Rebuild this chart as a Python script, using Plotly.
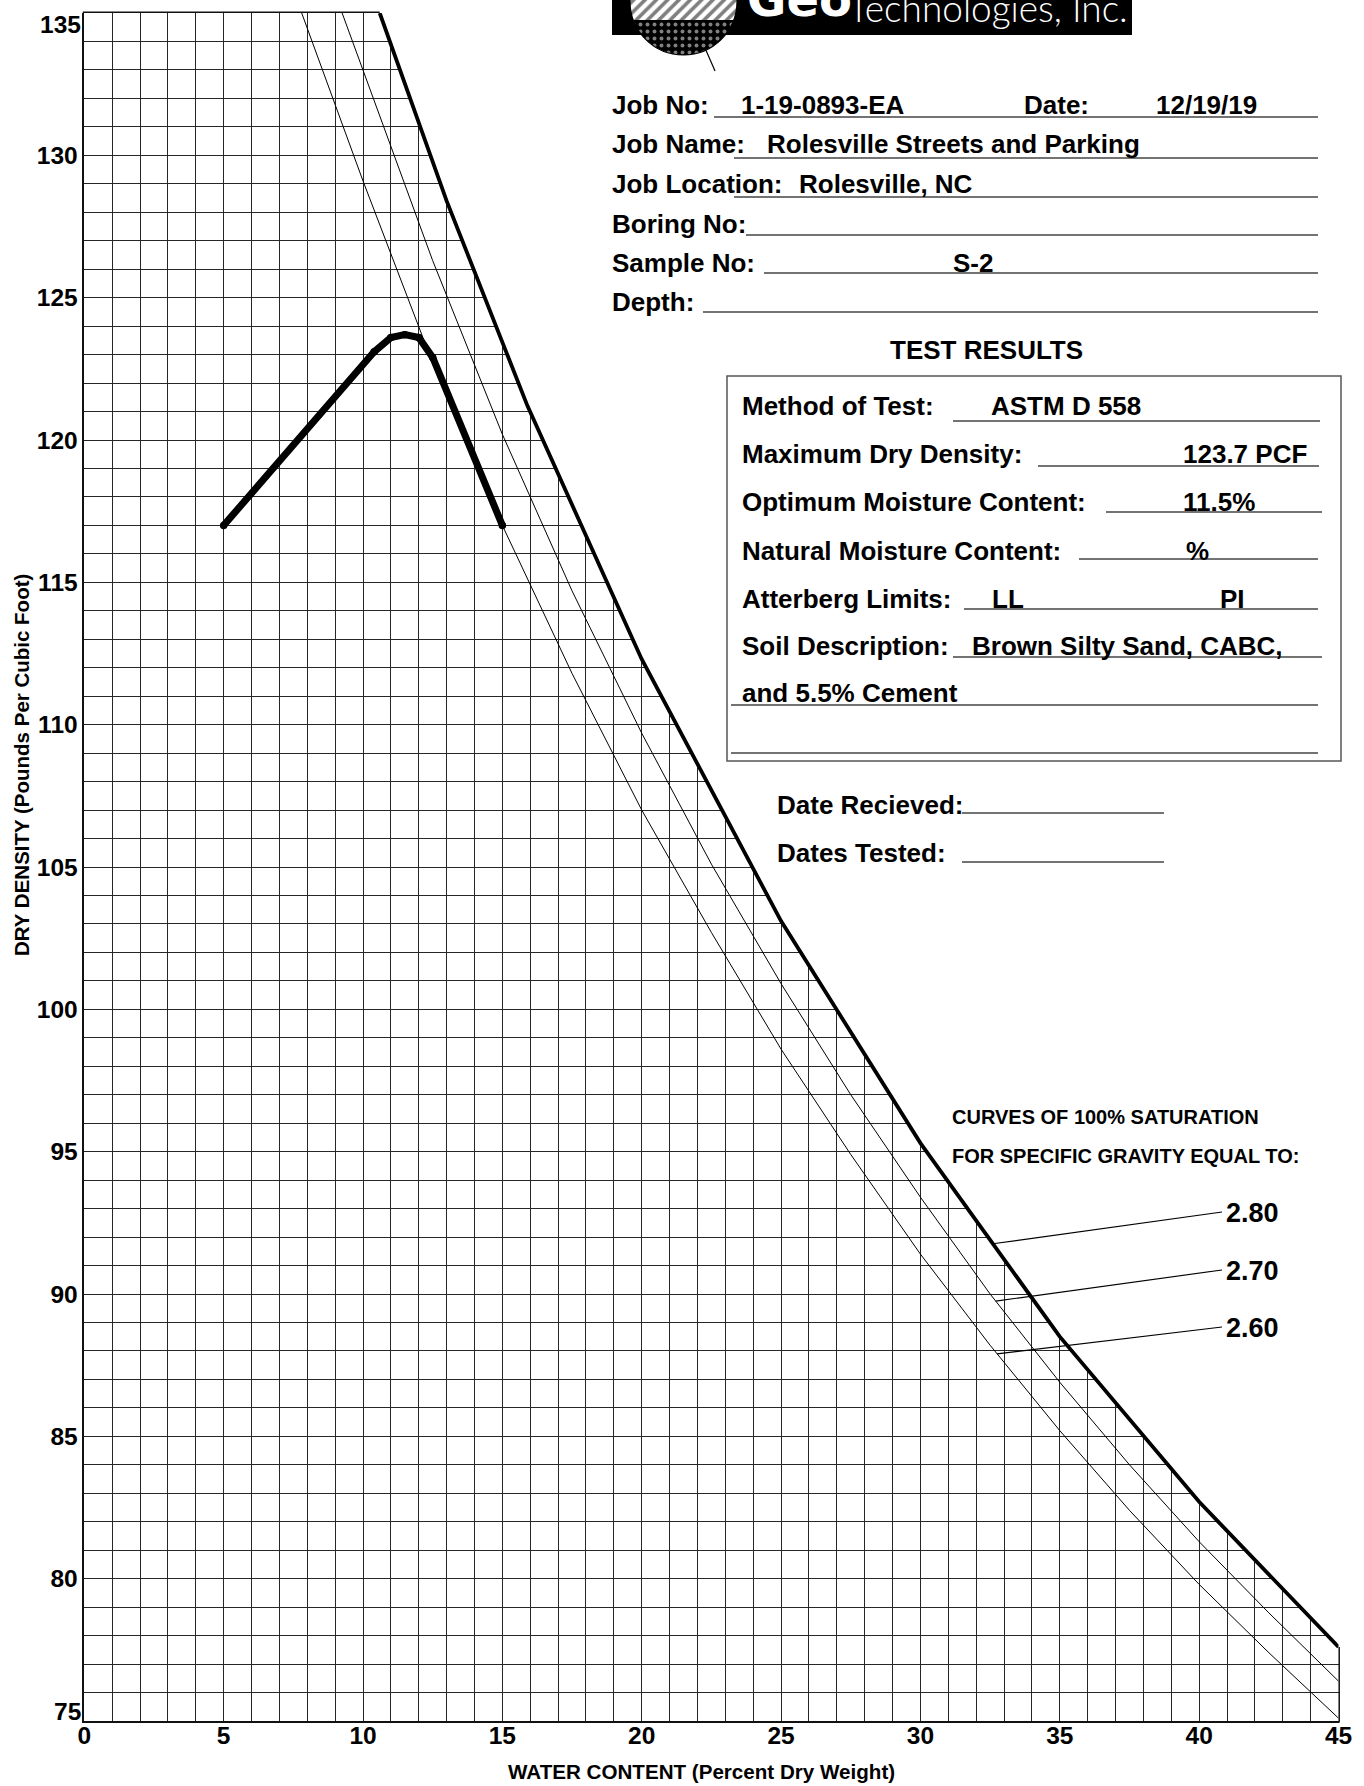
import numpy as np
import plotly.graph_objects as go

# ---------------- data ----------------
compaction_moisture = [5.0, 10.4, 11.0, 11.5, 12.0, 12.5, 15.0]
compaction_density = [117.0, 123.1, 123.6, 123.7, 123.6, 122.9, 117.0]

sat280_moisture = [10.6, 13.0, 15.9, 20.0, 25.0, 30.0, 35.0, 40.0, 45.0]
sat280_density = [135.0, 128.4, 121.2, 112.3, 103.1, 95.3, 88.5, 82.7, 77.6]

sat270_moisture = [9.25, 10.0, 12.5, 15.0, 17.5, 20.0, 22.5, 25.0, 27.5, 30.0,
                   32.5, 35.0, 37.5, 40.0, 42.5, 45.0]
sat270_density = [135.0, 133.0, 126.3, 120.2, 114.7, 109.7, 105.1, 100.9, 97.0, 93.4,
                  90.0, 86.9, 84.0, 81.3, 78.8, 76.4]

sat260_moisture = [7.8, 10.0, 12.5, 15.0, 17.5, 20.0, 22.5, 25.0, 27.5, 30.0,
                   32.5, 35.0, 37.5, 40.0, 42.5, 45.0]
sat260_density = [135.0, 129.1, 122.7, 117.0, 111.8, 107.0, 102.7, 98.6, 94.9, 91.4,
                  88.2, 85.2, 82.4, 79.8, 77.4, 75.1]

gravity_labels = ["2.80", "2.70", "2.60"]
leader_moisture = [32.6, 32.7, 32.75]

x_tick_vals = [0, 5, 10, 15, 20, 25, 30, 35, 40, 45]
y_tick_vals = [80, 85, 90, 95, 100, 105, 110, 115, 120, 125, 130]
y_end_labels = ["135", "75"]

# ---------------- page geometry ----------------
SANS = "Liberation Sans, Arial, Helvetica, sans-serif"
W, H = 1364, 1786
PX_L, PX_R, PY_T, PY_B = 84.3, 1338.5, 13.0, 1721.0
X_MIN, X_MAX, Y_MIN, Y_MAX = 0, 45, 75, 135
GRID = "#262626"
INK = "#111111"
RULE = "#444444"
FS = 26


def to_px(w, d):
    return (PX_L + (w - X_MIN) * (PX_R - PX_L) / (X_MAX - X_MIN),
            PY_T + (Y_MAX - d) * (PY_B - PY_T) / (Y_MAX - Y_MIN))


fig = go.Figure()

# white mask hiding the grid above the 2.80 saturation curve
fig.add_trace(go.Scatter(
    x=sat280_moisture + [X_MAX + 5, X_MAX + 5, sat280_moisture[0]],
    y=sat280_density + [sat280_density[-1], Y_MAX + 5, Y_MAX + 5],
    fill="toself", fillcolor="white", mode="none", hoverinfo="skip"))

for mw, dd, lw in [(sat260_moisture, sat260_density, 1.0),
                   (sat270_moisture, sat270_density, 1.0),
                   (sat280_moisture, sat280_density, 3.8)]:
    fig.add_trace(go.Scatter(x=mw, y=dd, mode="lines",
                             line=dict(color="black", width=lw), hoverinfo="skip"))

fig.add_trace(go.Scatter(x=compaction_moisture, y=compaction_density,
                         mode="lines+markers",
                         line=dict(color="black", width=7),
                         marker=dict(color="black", size=7.5)))

# ---------------- overlay (pixel subplot) ----------------
tx, ty = to_px(sat280_moisture[0], sat280_density[0])
rx, ry = to_px(sat280_moisture[-1], sat280_density[-1])
# white strips hiding the half-drawn edge gridlines above the 2.80 curve
fig.add_trace(go.Scatter(x=[PX_R - 0.8, PX_R + 4, PX_R + 4, PX_R - 0.8], y=[0, 0, ry - 3, ry - 3],
                         xaxis="x2", yaxis="y2", fill="toself", fillcolor="white", mode="none",
                         hoverinfo="skip"))
fig.add_trace(go.Scatter(x=[tx + 3, PX_R + 4, PX_R + 4, tx + 3], y=[PY_T - 4, PY_T - 4, PY_T + 0.8, PY_T + 0.8],
                         xaxis="x2", yaxis="y2", fill="toself", fillcolor="white", mode="none",
                         hoverinfo="skip"))

# logo
cx, cy, r, ysplit = 683.5, 1.5, 53.5, 20.0
a0 = np.arcsin((ysplit - cy) / r)
t_up = np.linspace(np.pi - a0, 2 * np.pi + a0, 80)
t_lo = np.linspace(a0, np.pi - a0, 60)
fig.add_trace(go.Scatter(x=[612, 1132, 1132, 612], y=[-5, -5, 35, 35], xaxis="x2", yaxis="y2",
                         fill="toself", fillcolor="black", mode="none", hoverinfo="skip"))
fig.add_trace(go.Scatter(x=cx + r * np.cos(t_up), y=cy + r * np.sin(t_up), xaxis="x2", yaxis="y2",
                         fill="toself", mode="none", hoverinfo="skip",
                         fillpattern=dict(shape="/", fgcolor="black", bgcolor="white",
                                          size=8, solidity=0.45)))
fig.add_trace(go.Scatter(x=cx + r * np.cos(t_lo), y=cy + r * np.sin(t_lo), xaxis="x2", yaxis="y2",
                         fill="toself", mode="none", hoverinfo="skip",
                         fillpattern=dict(shape=".", fgcolor="white", bgcolor="black",
                                          size=7, solidity=0.25)))

shapes = []
shapes.append(dict(type="circle", xref="x2", yref="y2", x0=cx - r, x1=cx + r, y0=cy - r, y1=cy + r,
                   line=dict(color="black", width=1.2)))
shapes.append(dict(type="line", xref="x2", yref="y2", x0=705, y0=48, x1=715, y1=71,
                   line=dict(color="black", width=1.2)))

# frame segments along the top and right edge (only where the grid is visible)
shapes.append(dict(type="line", xref="x2", yref="y2", x0=PX_L - 1.5, y0=PY_T - 0.7, x1=tx, y1=PY_T - 0.7,
                   line=dict(color=INK, width=1.5)))
shapes.append(dict(type="line", xref="x2", yref="y2", x0=PX_R + 0.7, y0=ry, x1=PX_R + 0.7, y1=PY_B + 1.5,
                   line=dict(color=INK, width=1.5)))

# leader lines for the specific gravity labels
label_y_px = [1213, 1271, 1328]
curves = [(sat280_moisture, sat280_density), (sat270_moisture, sat270_density),
          (sat260_moisture, sat260_density)]
for (mw, dd), wl, ly in zip(curves, leader_moisture, label_y_px):
    hx, hy = to_px(wl, float(np.interp(wl, mw, dd)))
    shapes.append(dict(type="line", xref="x2", yref="y2", x0=hx, y0=hy, x1=1222, y1=ly - 1,
                       line=dict(color="black", width=1.2)))


def rule(x0, x1, y, width=1.6):
    shapes.append(dict(type="line", xref="x2", yref="y2", x0=x0, x1=x1, y0=y, y1=y,
                       line=dict(color=RULE, width=width)))


annotations = []


def text(t, x, y, size=FS, anchor="left", color="black", family=SANS, weight="bold",
         yanchor="middle", angle=0):
    annotations.append(dict(text=t, x=x, y=y, xref="x2", yref="y2", xanchor=anchor,
                            yanchor=yanchor, showarrow=False, borderpad=0, borderwidth=0,
                            textangle=angle,
                            font=dict(family=family, size=size, color=color, weight=weight)))


# logo words
text("Geo", 747, 27, size=48, color="white", family="DejaVu Sans", yanchor="bottom")
text("Technologies, Inc.", 848, 30, size=37, color="white", family="Lato, Open Sans",
     weight=300, yanchor="bottom")

# header block
row_y = [105, 144, 184, 224, 263, 302]
rule_y = [117, 158, 197, 235, 273, 312]
rule_x0 = [714, 734, 734, 746, 764, 703]
labels = ["Job No:", "Job Name:", "Job Location:", "Boring No:", "Sample No:", "Depth:"]
for lab, yy, ry_, rx0 in zip(labels, row_y, rule_y, rule_x0):
    text(lab, 612, yy)
    rule(rx0, 1318, ry_)
text("1-19-0893-EA", 741, row_y[0])
text("Date:", 1024, row_y[0])
text("12/19/19", 1156, row_y[0])
text("Rolesville Streets and Parking", 767, row_y[1])
text("Rolesville, NC", 799, row_y[2])
text("S-2", 953, row_y[4])

text("TEST RESULTS", 986, 350, anchor="center")

# results box
shapes.append(dict(type="rect", xref="x2", yref="y2", x0=727, x1=1341, y0=376, y1=761,
                   line=dict(color="#555555", width=1.5)))
box_y = [406, 454, 502, 551, 599, 646, 693]
box_labels = ["Method of Test:", "Maximum Dry Density:", "Optimum Moisture Content:",
              "Natural Moisture Content:", "Atterberg Limits:", "Soil Description:",
              "and 5.5% Cement"]
for lab, yy in zip(box_labels, box_y):
    text(lab, 742, yy)
for x0, x1, yy in [(953, 1320, 421), (1038, 1319, 466), (1106, 1322, 512), (1079, 1318, 559),
                   (964, 1318, 609), (953, 1322, 657), (731, 1318, 705), (731, 1318, 753)]:
    rule(x0, x1, yy)
text("ASTM D 558", 991, box_y[0])
text("123.7 PCF", 1183, box_y[1])
text("11.5%", 1183, box_y[2])
text("%", 1186, box_y[3])
text("LL", 992, box_y[4])
text("PI", 1220, box_y[4])
text("Brown Silty Sand, CABC,", 972, box_y[5])

text("Date Recieved:", 777, 805)
rule(962, 1164, 813)
text("Dates Tested:", 777, 853)
rule(962, 1164, 862)

text("CURVES OF 100% SATURATION", 952, 1117, size=20)
text("FOR SPECIFIC GRAVITY EQUAL TO:", 952, 1156, size=20)
for g, ly in zip(gravity_labels, label_y_px):
    text(g, 1226, ly, size=27)

# axis end labels and titles
text(y_end_labels[0], 81, 24, size=24.5, anchor="right")
text(y_end_labels[1], 81, 1711, size=24.5, anchor="right")
text("WATER CONTENT (Percent Dry Weight)", 701, 1771, size=20.6, anchor="center")
text("DRY DENSITY (Pounds Per Cubic Foot)", 21, 765, size=20.5, anchor="center", angle=-90)

axis_common = dict(showgrid=True, gridcolor=GRID, gridwidth=1.1, zeroline=False,
                   showline=True, linecolor=INK, linewidth=1.5, ticks="",
                   tickfont=dict(family=SANS, size=24.5, color="black", weight="bold"),
                   fixedrange=True)

fig.update_layout(
    width=W, height=H,
    margin=dict(l=0, r=0, t=0, b=0),
    paper_bgcolor="white", plot_bgcolor="rgba(0,0,0,0)",
    showlegend=False,
    xaxis=dict(domain=[PX_L / W, PX_R / W], range=[X_MIN, X_MAX],
               tickmode="array", tickvals=x_tick_vals, ticktext=[str(v) for v in x_tick_vals],
               ticklabelstandoff=-8,
               minor=dict(tickmode="linear", tick0=0, dtick=1, showgrid=True,
                          gridcolor=GRID, gridwidth=1.1, ticks=""),
               anchor="y", automargin=False, **axis_common),
    yaxis=dict(domain=[(H - PY_B) / H, (H - PY_T) / H], range=[Y_MIN, Y_MAX],
               tickmode="array", tickvals=y_tick_vals, ticktext=[str(v) for v in y_tick_vals],
               minor=dict(tickmode="linear", tick0=0, dtick=1, showgrid=True,
                          gridcolor=GRID, gridwidth=1.1, ticks=""),
               anchor="x", automargin=False, **axis_common),
    xaxis2=dict(domain=[0, 1], range=[0, W], visible=False, anchor="y2", fixedrange=True),
    yaxis2=dict(domain=[0, 1], range=[H, 0], visible=False, anchor="x2", fixedrange=True),
    shapes=shapes,
    annotations=annotations,
)

fig.write_html("out.html",
               config={"displayModeBar": False},
               post_script="document.body.style.margin='0px';"
                           "document.body.style.overflow='hidden';")
